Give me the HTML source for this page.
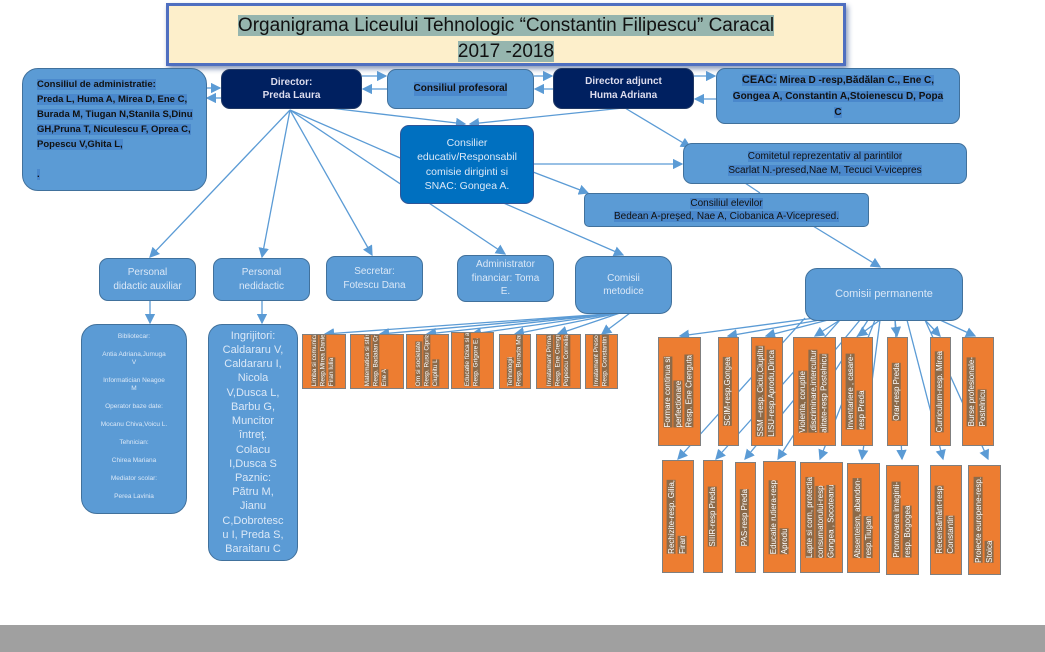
<!DOCTYPE html>
<html><head><meta charset="utf-8">
<style>
*{margin:0;padding:0;box-sizing:border-box}
body{width:1045px;height:652px;background:#fff;position:relative;overflow:hidden;font-family:"Liberation Sans",sans-serif}
.b{position:absolute;background:#5b9bd5;border:1px solid #41719c;border-radius:9px;display:flex;flex-direction:column;align-items:center;justify-content:center;text-align:center;font-size:10px;color:#111;line-height:1.35;overflow:hidden}
.b span{background:#4a88cc}
.dk{background:#002060;color:#dde;font-weight:bold;border-color:#203864}
.dk span{background:none}
.lt{color:#dbe8f7}
.o{position:absolute;background:#ed7d31;border:1px solid #7f7f7f;display:flex;justify-content:center;align-items:center;overflow:hidden}
.o div{writing-mode:vertical-rl;transform:rotate(180deg);font-size:8px;color:#fff;line-height:1.35;text-align:left;max-height:95%;white-space:nowrap}
.m div{font-size:6.5px;line-height:1.3}
.o span{background:#8b6a4a}
svg{position:absolute;left:0;top:0}
</style></head><body>
<svg width="1045" height="652">
<defs><marker id="a" markerWidth="8" markerHeight="8" refX="7" refY="4" orient="auto"><path d="M0,0L8,4L0,8z" fill="#5b9bd5"/></marker></defs>
<g stroke="#5b9bd5" stroke-width="1.3" fill="none" marker-end="url(#a)">
<line x1="206" y1="88" x2="220" y2="88"/><line x1="221" y1="98" x2="207" y2="98"/>
<line x1="362" y1="76" x2="386" y2="76"/><line x1="387" y1="89" x2="363" y2="89"/>
<line x1="534" y1="76" x2="552" y2="76"/><line x1="553" y1="89" x2="535" y2="89"/>
<line x1="694" y1="76" x2="715" y2="76"/><line x1="716" y1="99" x2="695" y2="99"/>
<line x1="290" y1="110" x2="150" y2="257"/>
<line x1="290" y1="110" x2="262" y2="257"/>
<line x1="290" y1="110" x2="372" y2="255"/>
<line x1="290" y1="110" x2="505" y2="254"/>
<line x1="290" y1="110" x2="623" y2="255"/>
<line x1="330" y1="108" x2="465" y2="124"/>
<line x1="623" y1="108" x2="470" y2="124"/>
<line x1="625" y1="108" x2="690" y2="147"/>
<line x1="533" y1="164" x2="682" y2="164"/>
<line x1="533" y1="172" x2="588" y2="193"/>
<line x1="813" y1="226" x2="880" y2="267"/>
<line x1="150" y1="300" x2="150" y2="323"/>
<line x1="262" y1="300" x2="262" y2="323"/>
<line x1="620" y1="313" x2="325" y2="334"/>
<line x1="620" y1="313" x2="380" y2="334"/>
<line x1="620" y1="313" x2="427" y2="334"/>
<line x1="620" y1="313" x2="472" y2="334"/>
<line x1="620" y1="313" x2="515" y2="334"/>
<line x1="620" y1="313" x2="558" y2="334"/>
<line x1="630" y1="313" x2="602" y2="334"/>
<line x1="815" y1="318" x2="680" y2="336"/>
<line x1="820" y1="320" x2="728" y2="336"/>
<line x1="828" y1="320" x2="766" y2="336"/>
<line x1="840" y1="320" x2="815" y2="336"/>
<line x1="880" y1="320" x2="858" y2="336"/>
<line x1="895" y1="320" x2="897" y2="336"/>
<line x1="925" y1="320" x2="940" y2="336"/>
<line x1="940" y1="320" x2="975" y2="336"/>
<line x1="805" y1="318" x2="678" y2="459"/>
<line x1="840" y1="320" x2="716" y2="459"/>
<line x1="860" y1="320" x2="745" y2="459"/>
<line x1="868" y1="320" x2="778" y2="459"/>
<line x1="875" y1="320" x2="820" y2="459"/>
<line x1="880" y1="320" x2="862" y2="459"/>
<line x1="895" y1="320" x2="902" y2="459"/>
<line x1="907" y1="320" x2="943" y2="459"/>
<line x1="925" y1="320" x2="988" y2="459"/>
</g>
<line x1="745" y1="183" x2="760" y2="193" stroke="#5b9bd5" stroke-width="1.3"/>
</svg>

<div style="position:absolute;left:166px;top:3px;width:680px;height:63px;background:#fdefcb;border:3px solid #4f6fc0;box-shadow:2px 3px 5px #8899bb;text-align:center;font-size:19px;line-height:26px;padding-top:7px;color:#111">
<span style="background:#96b5ae">Organigrama Liceului Tehnologic “Constantin Filipescu” Caracal</span><br><span style="background:#96b5ae">2017 -2018</span></div>

<div class="b" style="left:22px;top:68px;width:185px;height:123px;border-radius:16px;align-items:flex-start;justify-content:flex-start;text-align:left;padding:8px 12px 0 14px;font-weight:bold;font-size:9.5px;line-height:15px"><div><span>Consiliul de administratie:<br>Preda L, Huma A, Mirea D, Ene C, Burada M, Tiugan N,Stanila S,Dinu GH,Pruna T, Niculescu F, Oprea C, Popescu V,Ghita L,</span><br><br><span>.</span></div></div>
<div class="b dk" style="left:221px;top:69px;width:141px;height:40px"><div>Director:<br>Preda Laura</div></div>
<div class="b" style="left:387px;top:69px;width:147px;height:40px;font-weight:bold"><span>Consiliul profesoral</span></div>
<div class="b dk" style="left:553px;top:68px;width:141px;height:41px"><div>Director adjunct<br>Huma Adriana</div></div>
<div class="b" style="left:716px;top:68px;width:244px;height:56px;font-weight:bold;line-height:16px"><div><span style="font-size:11px">CEAC:</span> <span>Mirea D -resp,Bădălan C., Ene C,</span><br><span>Gongea A,  Constantin A,Stoienescu D, Popa</span><br><span>C</span></div></div>
<div class="b lt" style="left:400px;top:125px;width:134px;height:79px;background:#0070c0;border-color:#2f5597;font-size:10.5px"><div>Consilier<br>educativ/Responsabil<br>comisie diriginti si<br>SNAC: Gongea A.</div></div>
<div class="b" style="left:683px;top:143px;width:284px;height:41px"><div><span>Comitetul reprezentativ al parintilor</span><br><span>Scarlat N.-presed,Nae M, Tecuci V-vicepres</span></div></div>
<div class="b" style="left:584px;top:193px;width:285px;height:34px;border-radius:5px"><div><span>Consiliul elevilor</span><br><span>Bedean A-preşed, Nae A, Ciobanica A-Vicepresed.</span></div></div>
<div class="b lt" style="left:99px;top:258px;width:97px;height:43px"><div>Personal<br>didactic auxiliar</div></div>
<div class="b lt" style="left:213px;top:258px;width:97px;height:43px"><div>Personal<br>nedidactic</div></div>
<div class="b lt" style="left:326px;top:256px;width:97px;height:45px"><div>Secretar:<br>Fotescu Dana</div></div>
<div class="b lt" style="left:457px;top:255px;width:97px;height:47px"><div>Administrator<br>financiar: Toma<br>E.</div></div>
<div class="b lt" style="left:575px;top:256px;width:97px;height:58px;border-radius:12px"><div>Comisii<br>metodice</div></div>
<div class="b lt" style="left:805px;top:268px;width:158px;height:53px;border-radius:12px;font-size:11px"><div>Comisii permanente</div></div>
<div class="b lt" style="left:81px;top:324px;width:106px;height:190px;border-radius:16px;font-size:6.5px;line-height:8px;justify-content:flex-start;padding-top:8px;gap:10px"><div>Bibliotecar:</div><div>Antia Adriana,Jumuga<br>V</div><div>Informatician Neagoe<br>M</div><div>Operator baze date:</div><div>Mocanu Chiva,Voicu L.</div><div>Tehnician:</div><div>Chirea Mariana</div><div>Mediator scolar:</div><div>Perea Lavinia</div></div>
<div class="b lt" style="left:208px;top:324px;width:90px;height:237px;border-radius:14px;font-size:11px;line-height:14.2px"><div>Ingrijitori:<br>Caldararu V,<br>Caldararu I,<br>Nicola<br>V,Dusca L,<br>Barbu G,<br>Muncitor<br>întreţ.<br>Colacu<br>I,Dusca S<br>Paznic:<br>Pătru M,<br>Jianu<br>C,Dobrotesc<br>u I, Preda S,<br>Baraitaru  C</div></div>

<div class="o m" style="left:302px;top:334px;width:44px;height:55px"><div><span>Limba si comunicare</span><br><span>Resp.Mirea Daniela</span><br><span>Firan Iulia</span></div></div>
<div class="o m" style="left:350px;top:334px;width:54px;height:55px"><div><span>Matematica si stiinte</span><br><span>Resp. Badalan Cristina</span><br><span>Ene A</span></div></div>
<div class="o m" style="left:406px;top:334px;width:43px;height:55px"><div><span>Om si societate</span><br><span>Resp. Rusu Ciprian</span><br><span>Ciuplitu L</span></div></div>
<div class="o m" style="left:451px;top:332px;width:43px;height:57px"><div><span>Educatie fizica si arte</span><br><span>Resp. Grigore E.</span></div></div>
<div class="o m" style="left:499px;top:334px;width:32px;height:55px"><div><span>Tehnologii</span><br><span>Resp. Burada Mariana</span></div></div>
<div class="o m" style="left:536px;top:334px;width:45px;height:55px"><div><span>Invatamant Primar</span><br><span>Resp. Ene Crenguta</span><br><span>Popescu Cornelia</span></div></div>
<div class="o m" style="left:585px;top:334px;width:33px;height:55px"><div><span>Invatamant Prescolar</span><br><span>Resp. Constantin Anita</span></div></div>

<div class="o" style="left:658px;top:337px;width:43px;height:109px"><div><span>Formare continua si</span><br><span>perfectionare</span><br><span>Resp. Ene Crenguta</span></div></div>
<div class="o" style="left:718px;top:337px;width:21px;height:109px"><div><span>SCIM-resp.Gongea</span></div></div>
<div class="o" style="left:751px;top:337px;width:32px;height:109px"><div><span>SSM –resp. Ciciu,Ciuplitu</span><br><span>LISU-resp.Aprodu,Dinca</span></div></div>
<div class="o" style="left:793px;top:337px;width:43px;height:109px"><div><span>Violenta, coruptie</span><br><span>,discriminare,intercultur</span><br><span>alitate-resp Postelnicu</span></div></div>
<div class="o" style="left:841px;top:337px;width:32px;height:109px"><div><span>Inventariere , casare-</span><br><span>resp Preda</span></div></div>
<div class="o" style="left:887px;top:337px;width:21px;height:109px"><div><span>Orar-resp Preda</span></div></div>
<div class="o" style="left:930px;top:337px;width:21px;height:109px"><div><span>Curriculum-resp. Mirea</span></div></div>
<div class="o" style="left:962px;top:337px;width:32px;height:109px"><div><span>Burse profesionale-</span><br><span>Postelnicu</span></div></div>

<div class="o" style="left:662px;top:460px;width:32px;height:113px"><div><span>Rechizite-resp. Gilia,</span><br><span>Firan</span></div></div>
<div class="o" style="left:703px;top:460px;width:20px;height:113px"><div><span>SIIIR-resp Preda</span></div></div>
<div class="o" style="left:735px;top:462px;width:21px;height:111px"><div><span>PAS-resp Preda</span></div></div>
<div class="o" style="left:763px;top:461px;width:33px;height:112px"><div><span>Educatie rutiera-resp</span><br><span>Aprodu</span></div></div>
<div class="o" style="left:800px;top:462px;width:43px;height:111px"><div><span>Lapte si corn, protectia</span><br><span>consumatorului-resp</span><br><span>Gongea , Socoteanu</span></div></div>
<div class="o" style="left:847px;top:463px;width:33px;height:110px"><div><span>Absenteism, abandon-</span><br><span>resp.Tiugan</span></div></div>
<div class="o" style="left:886px;top:465px;width:33px;height:110px"><div><span>Promovarea imaginii-</span><br><span>resp. Bogogea</span></div></div>
<div class="o" style="left:930px;top:465px;width:32px;height:110px"><div><span>Recensământ-resp</span><br><span>Constantin</span></div></div>
<div class="o" style="left:968px;top:465px;width:33px;height:110px"><div><span>Proiecte europene-resp.</span><br><span>Stoica</span></div></div>

<div style="position:absolute;left:0;top:625px;width:1045px;height:27px;background:#a0a0a0"></div>
</body></html>
